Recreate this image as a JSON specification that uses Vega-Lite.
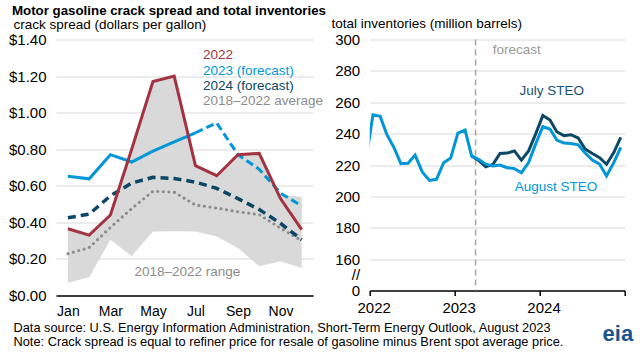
{
  "$schema": "https://vega.github.io/schema/vega-lite/v6.json",
  "background": "white",
  "padding": {"left": 8, "top": 3.5, "right": 2, "bottom": 0},
  "config": {
    "font": "Liberation Sans",
    "view": {"stroke": null},
    "axis": {"labelColor": "#000", "labelFontSize": 15, "gridColor": "#d9d9d9", "gridWidth": 1}
  },
  "title": {
    "text": "Motor gasoline crack spread and total inventories",
    "anchor": "start",
    "fontSize": 13.3,
    "fontWeight": "bold",
    "color": "#000",
    "offset": -1.3,
    "dx": 3.5
  },
  "resolve": {"scale": {"color": "independent"}},
  "datasets": {
    "range": [
      {"m": 1, "v": 0.07, "v2": 0.365},
      {"m": 2, "v": 0.10, "v2": 0.33},
      {"m": 3, "v": 0.305, "v2": 0.44},
      {"m": 4, "v": 0.215, "v2": 0.80},
      {"m": 5, "v": 0.35, "v2": 1.17},
      {"m": 6, "v": 0.352, "v2": 1.20},
      {"m": 7, "v": 0.35, "v2": 0.71},
      {"m": 8, "v": 0.323, "v2": 0.655},
      {"m": 9, "v": 0.26, "v2": 0.77},
      {"m": 10, "v": 0.16, "v2": 0.777},
      {"m": 11, "v": 0.187, "v2": 0.55},
      {"m": 12, "v": 0.15, "v2": 0.54}
    ],
    "crack": [
      {"s": "2022", "m": 1, "v": 0.365}, {"s": "2022", "m": 2, "v": 0.33}, {"s": "2022", "m": 3, "v": 0.44},
      {"s": "2022", "m": 4, "v": 0.80}, {"s": "2022", "m": 5, "v": 1.17}, {"s": "2022", "m": 6, "v": 1.20},
      {"s": "2022", "m": 7, "v": 0.71}, {"s": "2022", "m": 8, "v": 0.655}, {"s": "2022", "m": 9, "v": 0.77},
      {"s": "2022", "m": 10, "v": 0.777}, {"s": "2022", "m": 11, "v": 0.53}, {"s": "2022", "m": 12, "v": 0.36},
      {"s": "2023a", "m": 1, "v": 0.652}, {"s": "2023a", "m": 2, "v": 0.638}, {"s": "2023a", "m": 3, "v": 0.77},
      {"s": "2023a", "m": 4, "v": 0.73}, {"s": "2023a", "m": 5, "v": 0.79}, {"s": "2023a", "m": 6, "v": 0.84},
      {"s": "2023a", "m": 7, "v": 0.89},
      {"s": "2023f", "m": 7, "v": 0.89}, {"s": "2023f", "m": 8, "v": 0.944}, {"s": "2023f", "m": 9, "v": 0.77},
      {"s": "2023f", "m": 10, "v": 0.69}, {"s": "2023f", "m": 11, "v": 0.56}, {"s": "2023f", "m": 12, "v": 0.49},
      {"s": "2024", "m": 1, "v": 0.425}, {"s": "2024", "m": 2, "v": 0.445}, {"s": "2024", "m": 3, "v": 0.545},
      {"s": "2024", "m": 4, "v": 0.615}, {"s": "2024", "m": 5, "v": 0.646}, {"s": "2024", "m": 6, "v": 0.64},
      {"s": "2024", "m": 7, "v": 0.62}, {"s": "2024", "m": 8, "v": 0.586}, {"s": "2024", "m": 9, "v": 0.53},
      {"s": "2024", "m": 10, "v": 0.47}, {"s": "2024", "m": 11, "v": 0.395}, {"s": "2024", "m": 12, "v": 0.305},
      {"s": "avg", "m": 1, "v": 0.228}, {"s": "avg", "m": 2, "v": 0.262}, {"s": "avg", "m": 3, "v": 0.372},
      {"s": "avg", "m": 4, "v": 0.475}, {"s": "avg", "m": 5, "v": 0.57}, {"s": "avg", "m": 6, "v": 0.565},
      {"s": "avg", "m": 7, "v": 0.495}, {"s": "avg", "m": 8, "v": 0.478}, {"s": "avg", "m": 9, "v": 0.458},
      {"s": "avg", "m": 10, "v": 0.442}, {"s": "avg", "m": 11, "v": 0.368}, {"s": "avg", "m": 12, "v": 0.30}
    ],
    "leftText": [
      {"m": 7.35, "v": 1.315, "t": "2022"},
      {"m": 7.35, "v": 1.228, "t": "2023 (forecast)"},
      {"m": 7.35, "v": 1.146, "t": "2024 (forecast)"},
      {"m": 7.35, "v": 1.064, "t": "2018–2022 average"},
      {"m": 4.13, "v": 0.13, "t": "2018–2022 range"}
    ],
    "inv": [
      {"s": "Aug", "d": "2021-12-15", "v": 222},
      {"s": "Aug", "d": "2022-01-15", "v": 252},
      {"s": "Aug", "d": "2022-02-15", "v": 251},
      {"s": "Aug", "d": "2022-03-15", "v": 239.7},
      {"s": "Aug", "d": "2022-04-15", "v": 231.2},
      {"s": "Aug", "d": "2022-05-15", "v": 220.9},
      {"s": "Aug", "d": "2022-06-15", "v": 221.1},
      {"s": "Aug", "d": "2022-07-15", "v": 226.3},
      {"s": "Aug", "d": "2022-08-15", "v": 215.6},
      {"s": "Aug", "d": "2022-09-15", "v": 210.2},
      {"s": "Aug", "d": "2022-10-15", "v": 210.9},
      {"s": "Aug", "d": "2022-11-15", "v": 221.5},
      {"s": "Aug", "d": "2022-12-15", "v": 224.4},
      {"s": "Aug", "d": "2023-01-15", "v": 240.4},
      {"s": "Aug", "d": "2023-02-15", "v": 242.3},
      {"s": "Aug", "d": "2023-03-15", "v": 225.8},
      {"s": "Aug", "d": "2023-04-15", "v": 223.5},
      {"s": "Aug", "d": "2023-05-15", "v": 220.5},
      {"s": "Aug", "d": "2023-06-15", "v": 219.4},
      {"s": "Aug", "d": "2023-07-15", "v": 220.0},
      {"s": "Aug", "d": "2023-08-15", "v": 218.3},
      {"s": "Aug", "d": "2023-09-15", "v": 217.7},
      {"s": "Aug", "d": "2023-10-15", "v": 215.1},
      {"s": "Aug", "d": "2023-11-15", "v": 221.5},
      {"s": "Aug", "d": "2023-12-15", "v": 233.3},
      {"s": "Aug", "d": "2024-01-15", "v": 244.4},
      {"s": "Aug", "d": "2024-02-15", "v": 242.9},
      {"s": "Aug", "d": "2024-03-15", "v": 235.9},
      {"s": "Aug", "d": "2024-04-15", "v": 234.0},
      {"s": "Aug", "d": "2024-05-15", "v": 233.7},
      {"s": "Aug", "d": "2024-06-15", "v": 232.9},
      {"s": "Aug", "d": "2024-07-15", "v": 227.6},
      {"s": "Aug", "d": "2024-08-15", "v": 223.1},
      {"s": "Aug", "d": "2024-09-15", "v": 220.5},
      {"s": "Aug", "d": "2024-10-15", "v": 213.0},
      {"s": "Aug", "d": "2024-11-15", "v": 221.5},
      {"s": "Aug", "d": "2024-12-15", "v": 231.2},
      {"s": "Jul", "d": "2023-03-15", "v": 225.8},
      {"s": "Jul", "d": "2023-04-15", "v": 222.8},
      {"s": "Jul", "d": "2023-05-15", "v": 218.8},
      {"s": "Jul", "d": "2023-06-15", "v": 220.4},
      {"s": "Jul", "d": "2023-07-15", "v": 227.3},
      {"s": "Jul", "d": "2023-08-15", "v": 227.6},
      {"s": "Jul", "d": "2023-09-15", "v": 229.0},
      {"s": "Jul", "d": "2023-10-15", "v": 223.1},
      {"s": "Jul", "d": "2023-11-15", "v": 229.0},
      {"s": "Jul", "d": "2023-12-15", "v": 239.7},
      {"s": "Jul", "d": "2024-01-15", "v": 251.5},
      {"s": "Jul", "d": "2024-02-15", "v": 248.7},
      {"s": "Jul", "d": "2024-03-15", "v": 241.2},
      {"s": "Jul", "d": "2024-04-15", "v": 238.7},
      {"s": "Jul", "d": "2024-05-15", "v": 239.3},
      {"s": "Jul", "d": "2024-06-15", "v": 237.2},
      {"s": "Jul", "d": "2024-07-15", "v": 230.1},
      {"s": "Jul", "d": "2024-08-15", "v": 227.3},
      {"s": "Jul", "d": "2024-09-15", "v": 224.7},
      {"s": "Jul", "d": "2024-10-15", "v": 220.5},
      {"s": "Jul", "d": "2024-11-15", "v": 227.9},
      {"s": "Jul", "d": "2024-12-15", "v": 237.6}
    ],
    "rightText": [
      {"d": "2023-06-14", "v": 293, "t": "forecast"},
      {"d": "2023-10-07", "v": 267, "t": "July STEO"},
      {"d": "2023-09-16", "v": 206, "t": "August STEO"}
    ],
    "fline": [{"d": "2023-04-01", "v": 300, "v2": 140}]
  },
  "bounds": "flush",
  "spacing": 56.7,
  "hconcat": [
    {
      "width": 257,
      "height": 256,
      "encoding": {
        "x": {
          "field": "m", "type": "quantitative",
          "scale": {"domain": [0.44, 12.53], "nice": false, "zero": false},
          "axis": {
            "values": [1, 3, 5, 7, 9, 11],
            "labelExpr": "['Jan','Feb','Mar','Apr','May','Jun','Jul','Aug','Sep','Oct','Nov','Dec'][datum.value - 1]",
            "grid": false, "ticks": false, "domain": true, "domainColor": "#000", "domainWidth": 1.5,
            "labelPadding": 9, "labelFontSize": 14, "labelFlush": false,
            "title": ["Data source: U.S. Energy Information Administration, Short-Term Energy Outlook, August 2023", "Note: Crack spread is equal to refiner price for resale of gasoline minus Brent spot average price."],
            "titleFontSize": 12.8, "titleFontWeight": "normal", "titleColor": "#000",
            "titleAlign": "left", "titleBaseline": "alphabetic", "titleAnchor": "start",
            "titleX": -43, "titleY": 36.3, "titleLineHeight": 14
          }
        },
        "y": {
          "field": "v", "type": "quantitative",
          "scale": {"domain": [0, 1.4], "nice": false},
          "axis": {
            "values": [0, 0.2, 0.4, 0.6, 0.8, 1.0, 1.2, 1.4],
            "format": "$.2f", "grid": true, "ticks": false, "domain": false,
            "labelPadding": 10,
            "title": "crack spread (dollars per gallon)",
            "titleFontSize": 13.5, "titleFontWeight": "normal", "titleColor": "#000",
            "titleAngle": 0, "titleAlign": "left", "titleBaseline": "alphabetic",
            "titleX": -43, "titleY": -10.8
          }
        }
      },
      "layer": [
        {"data": {"name": "range"}, "mark": {"type": "area", "color": "#d9d9d9"}, "encoding": {"y2": {"field": "v2"}}},
        {"data": {"name": "crack"}, "transform": [{"filter": "datum.s == 'avg'"}],
         "mark": {"type": "line", "color": "#8c8c8c", "strokeWidth": 3, "strokeDash": [0.1, 5.5], "strokeCap": "round"}},
        {"data": {"name": "crack"}, "transform": [{"filter": "datum.s == '2024'"}],
         "mark": {"type": "line", "color": "#0c4866", "strokeWidth": 3.5, "strokeDash": [8, 5]}},
        {"data": {"name": "crack"}, "transform": [{"filter": "datum.s == '2023a'"}],
         "mark": {"type": "line", "color": "#0096d7", "strokeWidth": 3}},
        {"data": {"name": "crack"}, "transform": [{"filter": "datum.s == '2023f'"}],
         "mark": {"type": "line", "color": "#0096d7", "strokeWidth": 3, "strokeDash": [8, 4]}},
        {"data": {"name": "crack"}, "transform": [{"filter": "datum.s == '2022'"}],
         "mark": {"type": "line", "color": "#a33340", "strokeWidth": 3}},
        {"data": {"name": "leftText"},
         "mark": {"type": "text", "align": "left", "baseline": "middle", "fontSize": 13.5},
         "encoding": {
           "text": {"field": "t"},
           "color": {"field": "t", "type": "nominal", "legend": null,
             "scale": {"domain": ["2022", "2023 (forecast)", "2024 (forecast)", "2018–2022 average", "2018–2022 range"],
                       "range": ["#a33340", "#0096d7", "#0c4866", "#8c8c8c", "#8c8c8c"]}}
         }}
      ]
    },
    {
      "width": 255,
      "height": 251,
      "resolve": {"scale": {"color": "independent"}},
      "encoding": {
        "x": {
          "field": "d", "type": "temporal",
          "scale": {"type": "utc", "domain": [{"year": 2022, "month": 1, "date": 1, "utc": true}, {"year": 2025, "month": 1, "date": 1, "utc": true}]},
          "axis": {
            "values": [{"year": 2022, "month": 1, "date": 1, "utc": true}, {"year": 2023, "month": 1, "date": 1, "utc": true}, {"year": 2024, "month": 1, "date": 1, "utc": true}, {"year": 2025, "month": 1, "date": 1, "utc": true}],
            "labelExpr": "utcFormat(datum.value, '%Y') == '2025' ? '' : utcFormat(datum.value, '%Y')",
            "grid": false, "ticks": true, "tickSize": 5, "tickColor": "#000", "tickWidth": 1.5,
            "domain": true, "domainColor": "#000", "domainWidth": 1.5,
            "labelPadding": 4.5, "labelOffset": 4, "labelFlush": false, "labelOverlap": false,
            "title": "eia", "titleFontSize": 22, "titleFontWeight": "bold", "titleColor": "#1a5590",
            "titleAlign": "right", "titleBaseline": "alphabetic", "titleX": 263, "titleY": 50
          }
        },
        "y": {
          "field": "v", "type": "quantitative",
          "scale": {"domain": [140, 300], "nice": false, "zero": false},
          "axis": {
            "values": [140, 150, 160, 180, 200, 220, 240, 260, 280, 300],
            "labelExpr": "datum.value == 140 ? '0' : datum.value == 150 ? '//' : datum.label",
            "grid": true,
            "gridOpacity": {"condition": {"test": "datum.value < 155", "value": 0}, "value": 1},
            "ticks": false, "domain": false, "labelPadding": 10,
            "title": "total inventories (million barrels)",
            "titleFontSize": 13.5, "titleFontWeight": "normal", "titleColor": "#000",
            "titleAngle": 0, "titleAlign": "left", "titleBaseline": "alphabetic",
            "titleX": -38.7, "titleY": -12.5
          }
        }
      },
      "layer": [
        {"data": {"name": "fline"},
         "mark": {"type": "rule", "color": "#a6a6a6", "strokeWidth": 1.5, "strokeDash": [6, 4]},
         "encoding": {"y2": {"field": "v2"}}},
        {"data": {"name": "inv"}, "transform": [{"filter": "datum.s == 'Jul'"}],
         "mark": {"type": "line", "color": "#0c4866", "strokeWidth": 3, "clip": true}},
        {"data": {"name": "inv"}, "transform": [{"filter": "datum.s == 'Aug'"}],
         "mark": {"type": "line", "color": "#0096d7", "strokeWidth": 3, "clip": true}},
        {"data": {"name": "rightText"},
         "mark": {"type": "text", "align": "left", "baseline": "middle", "fontSize": 13.5},
         "encoding": {
           "text": {"field": "t"},
           "color": {"field": "t", "type": "nominal", "legend": null,
             "scale": {"domain": ["forecast", "July STEO", "August STEO"],
                       "range": ["#999999", "#1a5173", "#0096d7"]}}
         }}
      ]
    }
  ]
}
